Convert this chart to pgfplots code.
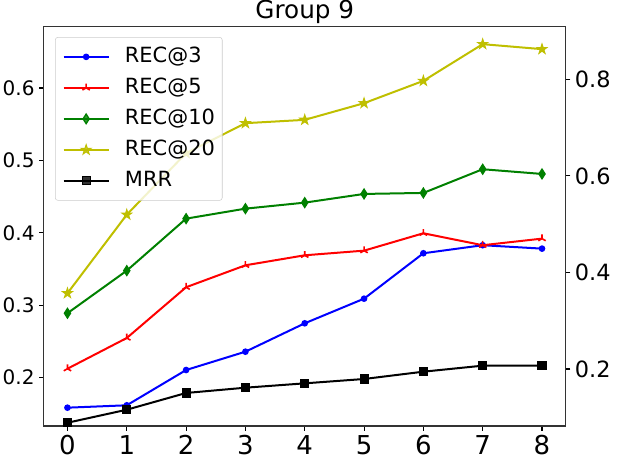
\documentclass[border=0pt]{standalone}
\usepackage{fontspec}
\setmainfont{DejaVu Sans}
\usepackage{pgfplots}
\pgfplotsset{compat=1.18}
\usetikzlibrary{plotmarks}
\definecolor{mblue}{RGB}{0,0,255}
\definecolor{mred}{RGB}{255,0,0}
\definecolor{mgreen}{RGB}{0,128,0}
\definecolor{myellow}{RGB}{191,191,0}
\pgfdeclareplotmark{fstar}{%
  \pgfpathmoveto{\pgfpointpolar{90}{\pgfplotmarksize}}%
  \pgfpathlineto{\pgfpointpolar{126}{0.382\pgfplotmarksize}}%
  \pgfpathlineto{\pgfpointpolar{162}{\pgfplotmarksize}}%
  \pgfpathlineto{\pgfpointpolar{198}{0.382\pgfplotmarksize}}%
  \pgfpathlineto{\pgfpointpolar{234}{\pgfplotmarksize}}%
  \pgfpathlineto{\pgfpointpolar{270}{0.382\pgfplotmarksize}}%
  \pgfpathlineto{\pgfpointpolar{306}{\pgfplotmarksize}}%
  \pgfpathlineto{\pgfpointpolar{342}{0.382\pgfplotmarksize}}%
  \pgfpathlineto{\pgfpointpolar{18}{\pgfplotmarksize}}%
  \pgfpathlineto{\pgfpointpolar{54}{0.382\pgfplotmarksize}}%
  \pgfpathclose
  \pgfusepathqfillstroke
}
\newcommand{\fs}{\fontsize{15.7}{18}\selectfont}
\begin{document}
\begin{tikzpicture}
\useasboundingbox (-32.8pt,-29.25pt) rectangle (430.7pt,319.5pt);
\begin{axis}[
  at={(0,0)}, anchor=south west, scale only axis,
  width=391.5pt, height=299.8pt,
  xmin=-0.4, xmax=8.4, ymin=0.1333, ymax=0.6852,
  xtick={0,1,2,3,4,5,6,7,8}, ytick={0.2,0.3,0.4,0.5,0.6},
  xtick pos=bottom, ytick pos=left,
  tick align=outside, major tick length=3.5pt,
  tick style={black, line width=0.8pt},
  axis line style={black!80, line width=0.8pt},
  /pgf/number format/assume math mode=true,
  ticklabel style={inner sep=3.2pt},
  xticklabel style={font=\fontsize{19.5}{22}\selectfont},
  yticklabel style={font=\fontsize{15}{18}\selectfont, /pgf/number format/.cd, fixed, fixed zerofill, precision=1},
  title={Group 9},
  every axis title shift=0pt,
  title style={font=\fontsize{18.5}{22}\selectfont, at={(0.5,1)}, anchor=base, yshift=5.9pt, inner sep=0pt},
  clip marker paths=true,
  legend cell align=left,
  legend image code/.code={\draw[mark repeat=2,mark phase=2,#1] plot coordinates {(0pt,0pt) (16.9pt,0pt) (33.75pt,0pt)};},
  legend style={at={(0.0216,0.973)}, anchor=north west, draw=black!20, fill=white, fill opacity=0.8, text opacity=1,
    rounded corners=2pt, font=\fs, inner xsep=5.5pt, inner ysep=6.9pt, row sep=7.75pt, column sep=11.5pt,
    nodes={inner sep=0pt, text height=12pt, text depth=3.5pt}},
]
\addplot[mblue, line width=1.5pt, mark=*, mark size=1.7pt] coordinates {
(0,0.1586) (1,0.1619) (2,0.2106) (3,0.2359) (4,0.2751) (5,0.3091) (6,0.3718) (7,0.3829) (8,0.3782)};
\addlegendentry{REC@3}
\addplot[mred, line width=1.5pt, mark=Mercedes star, mark size=3.2pt, mark options={line width=1.2pt}] coordinates {
(0,0.2124) (1,0.2548) (2,0.3249) (3,0.3552) (4,0.3690) (5,0.3754) (6,0.3994) (7,0.3829) (8,0.3920)};
\addlegendentry{REC@5}
\addplot[mgreen, line width=1.5pt, mark=diamond*, mark size=3.6pt, mark options={xscale=0.85, line width=1pt}] coordinates {
(0,0.2890) (1,0.3478) (2,0.4196) (3,0.4334) (4,0.4417) (5,0.4537) (6,0.4551) (7,0.4878) (8,0.4813)};
\addlegendentry{REC@10}
\addplot[myellow, line width=1.5pt, mark=fstar, mark size=3.8pt, mark options={line width=0.8pt}] coordinates {
(0,0.3166) (1,0.4251) (2,0.5100) (3,0.5514) (4,0.5560) (5,0.5790) (6,0.6098) (7,0.6605) (8,0.6536)};
\addlegendentry{REC@20}
\addplot[black, line width=1.5pt, mark=square*, mark size=3pt, mark options={line width=0.8pt}] coordinates {
(0,0.1378) (1,0.1558) (2,0.1789) (3,0.1862) (4,0.1922) (5,0.1982) (6,0.2083) (7,0.2166) (8,0.2166)};
\addlegendentry{MRR}
\end{axis}
\begin{axis}[
  at={(0,0)}, anchor=south west, scale only axis,
  width=391.5pt, height=299.8pt,
  xmin=-0.4, xmax=8.4, ymin=0.082, ymax=0.9098,
  axis x line=none, axis y line*=right,
  ytick={0.2,0.4,0.6,0.8},
  tick align=outside, major tick length=3.5pt,
  tick style={black, line width=0.8pt},
  axis line style={black!80, line width=0.8pt},
  /pgf/number format/assume math mode=true,
  ticklabel style={inner sep=3.2pt},
  yticklabel style={font=\fontsize{16.8}{20}\selectfont, /pgf/number format/.cd, fixed, fixed zerofill, precision=1},
]
\addplot[draw=none] coordinates {(0,0.5)};
\end{axis}
\end{tikzpicture}
\end{document}
